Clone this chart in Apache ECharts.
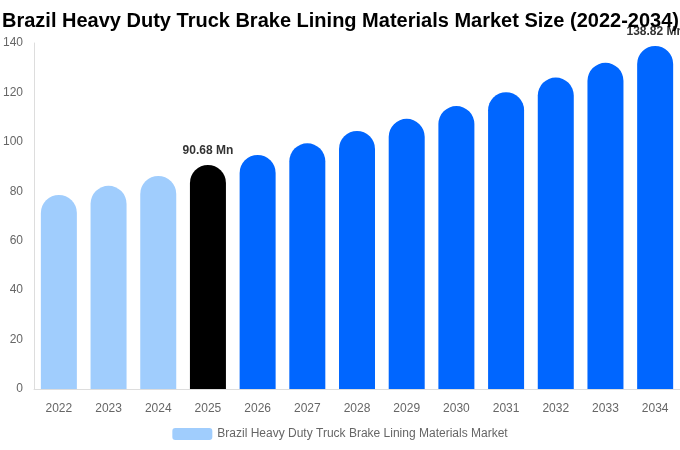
<!DOCTYPE html>
<html><head><meta charset="utf-8">
<script src="https://cdn.jsdelivr.net/npm/echarts@6/dist/echarts.min.js"></script>
<style>html,body{margin:0;padding:0;background:#fff}#c{width:680px;height:450px}</style>
</head><body><div id="c"></div>
<script>
const categories = ['2022','2023','2024','2025','2026','2027','2028','2029','2030','2031','2032','2033','2034'];
const values = [78.5, 82.2, 86.2, 90.68, 94.7, 99.4, 104.4, 109.3, 114.5, 120.1, 126.0, 132.0, 138.82];
const barColors = ['#a0cdfd','#a0cdfd','#a0cdfd','#000000','#0066ff','#0066ff','#0066ff','#0066ff','#0066ff','#0066ff','#0066ff','#0066ff','#0066ff'];
const labelled = ['2025','2034'];
const seriesName = 'Brazil Heavy Duty Truck Brake Lining Materials Market';
const chart = echarts.init(document.getElementById('c'));
chart.setOption({
  animation: false,
  title: {
    text: 'Brazil Heavy Duty Truck Brake Lining Materials Market Size (2022-2034)',
    left: 2, top: 11, padding: 0,
    textStyle: {fontFamily: 'Liberation Sans, Arial, sans-serif', fontSize: 20, fontWeight: 'bold', color: '#000'}
  },
  legend: {
    bottom: 5, left: 'center',
    itemWidth: 40, itemHeight: 12,
    data: [{name: seriesName, itemStyle: {color: '#a0cdfd'}}],
    textStyle: {fontFamily: 'Liberation Sans, Arial, sans-serif', fontSize: 12, color: '#666'}
  },
  grid: {left: 34, right: 0, top: 43, bottom: 61},
  xAxis: {
    type: 'category', data: categories,
    axisLine: {lineStyle: {color: '#ddd'}},
    axisTick: {show: false},
    axisLabel: {color: '#666', fontSize: 12, margin: 14, fontFamily: 'Liberation Sans, Arial, sans-serif'}
  },
  yAxis: {
    type: 'value', min: 0, max: 140, interval: 20,
    axisLine: {show: true, lineStyle: {color: '#ddd'}},
    splitLine: {show: false},
    axisLabel: {color: '#666', fontSize: 12, margin: 11, fontFamily: 'Liberation Sans, Arial, sans-serif'}
  },
  series: [{
    name: seriesName, type: 'bar', barWidth: 36,
    data: values.map((v, i) => ({
      value: v,
      itemStyle: {color: barColors[i], borderRadius: [18,18,0,0]},
      label: {show: labelled.includes(categories[i]), position: 'top', distance: 8, formatter: p => p.value + ' Mn',
        color: '#333', fontWeight: 'bold', fontSize: 12, fontFamily: 'Liberation Sans, Arial, sans-serif'}
    }))
  }]
});
</script></body></html>
